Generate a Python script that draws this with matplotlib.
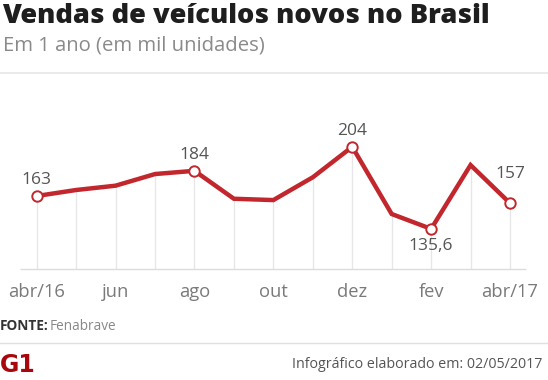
import matplotlib
matplotlib.use("Agg")
import matplotlib.pyplot as plt
from matplotlib.lines import Line2D

months = ["abr/16", "mai", "jun", "jul", "ago", "set", "out", "nov", "dez", "jan", "fev", "mar", "abr/17"]
values = [163, 168, 171.6, 181.3, 184, 160.7, 159.6, 178.6, 204, 148, 135.6, 188.8, 157]
tick_labels = ["abr/16", "jun", "ago", "out", "dez", "fev", "abr/17"]
tick_idx = [0, 2, 4, 6, 8, 10, 12]
labeled = {0: "163", 4: "184", 8: "204", 10: "135,6", 12: "157"}

W, H = 548, 380
fig = plt.figure(figsize=(W / 100, H / 100), dpi=100)
fig.patch.set_facecolor("white")

def fx(x):
    return x / W

def fy(y):
    return 1 - y / H

x0px, x12px = 36.7, 510.0
step = (x12px - x0px) / 12
ax_top_px, ax_bot_px = 80, 269
ax = fig.add_axes([0, fy(ax_bot_px), 1, (ax_bot_px - ax_top_px) / H])
ax.set_xlim(-x0px / step, (W - x0px) / step)
pxu = 1.2
ymin = 163 - (ax_bot_px - 196) / pxu
ymax = 163 + (196 - ax_top_px) / pxu
ax.set_ylim(ymin, ymax)
ax.axis("off")

xs = list(range(len(values)))
red = "#c1272d"
ax.vlines(xs, ymin, values, colors="#e6e6e6", linewidth=0.9, zorder=1)
ax.hlines(ymin, (20 - x0px) / step, (526 - x0px) / step, colors="#dcdcdc", linewidth=1.0, zorder=1, clip_on=False)
ax.plot(xs, values, color=red, linewidth=3.2, solid_joinstyle="miter", zorder=3)
mx = list(labeled.keys())
ax.plot(mx, [values[i] for i in mx], linestyle="none", marker="o", markersize=7.5,
        markerfacecolor="white", markeredgecolor=red, markeredgewidth=1.4, zorder=4)

lab_font = dict(family="Open Sans", fontsize=12.5, color="#555555")
for i, t in labeled.items():
    if i == 10:
        dy = -17
    elif i == 12:
        dy = 29
    else:
        dy = 16
    ax.annotate(t, (i, values[i]), xytext=(0, dy), textcoords="offset pixels", ha="center", va="center", **lab_font)

for i, t in zip(tick_idx, tick_labels):
    ax.annotate(t, (i, ymin), xytext=(0, -23), textcoords="offset pixels", ha="center", va="center",
                family="Open Sans", fontsize=13.2, color="#7a7a7a", annotation_clip=False)

# header
fig.text(fx(2), fy(16), "Vendas de veículos novos no Brasil", family="Open Sans", fontweight="heavy",
         fontsize=19.6, color="#1e1e1e", ha="left", va="center")
fig.text(fx(3), fy(46), "Em 1 ano (em mil unidades)", family="Open Sans", fontsize=14.6,
         color="#8a8a8a", ha="left", va="center")
fig.add_artist(Line2D([0, 1], [fy(73), fy(73)], color="#e6e6e6", linewidth=1.2, transform=fig.transFigure))

# footer
fig.text(fx(0), fy(326), "FONTE:", family="Open Sans", fontweight="bold", fontsize=9.8,
         color="#333333", ha="left", va="center")
fig.text(fx(50), fy(326), "Fenabrave", family="Open Sans", fontsize=9.8, color="#888888", ha="left", va="center")
fig.add_artist(Line2D([0, 1], [fy(343), fy(343)], color="#e0e0e0", linewidth=1.0, transform=fig.transFigure))
fig.text(fx(0), fy(365), "G1", family="DejaVu Sans", fontweight="heavy", fontsize=17,
         color="#a8070d", ha="left", va="center")
fig.text(fx(542), fy(364), "Infográfico elaborado em: 02/05/2017", family="Open Sans", fontsize=10.3,
         color="#555555", ha="right", va="center")

fig.savefig("out.png", dpi=100, facecolor="white")
